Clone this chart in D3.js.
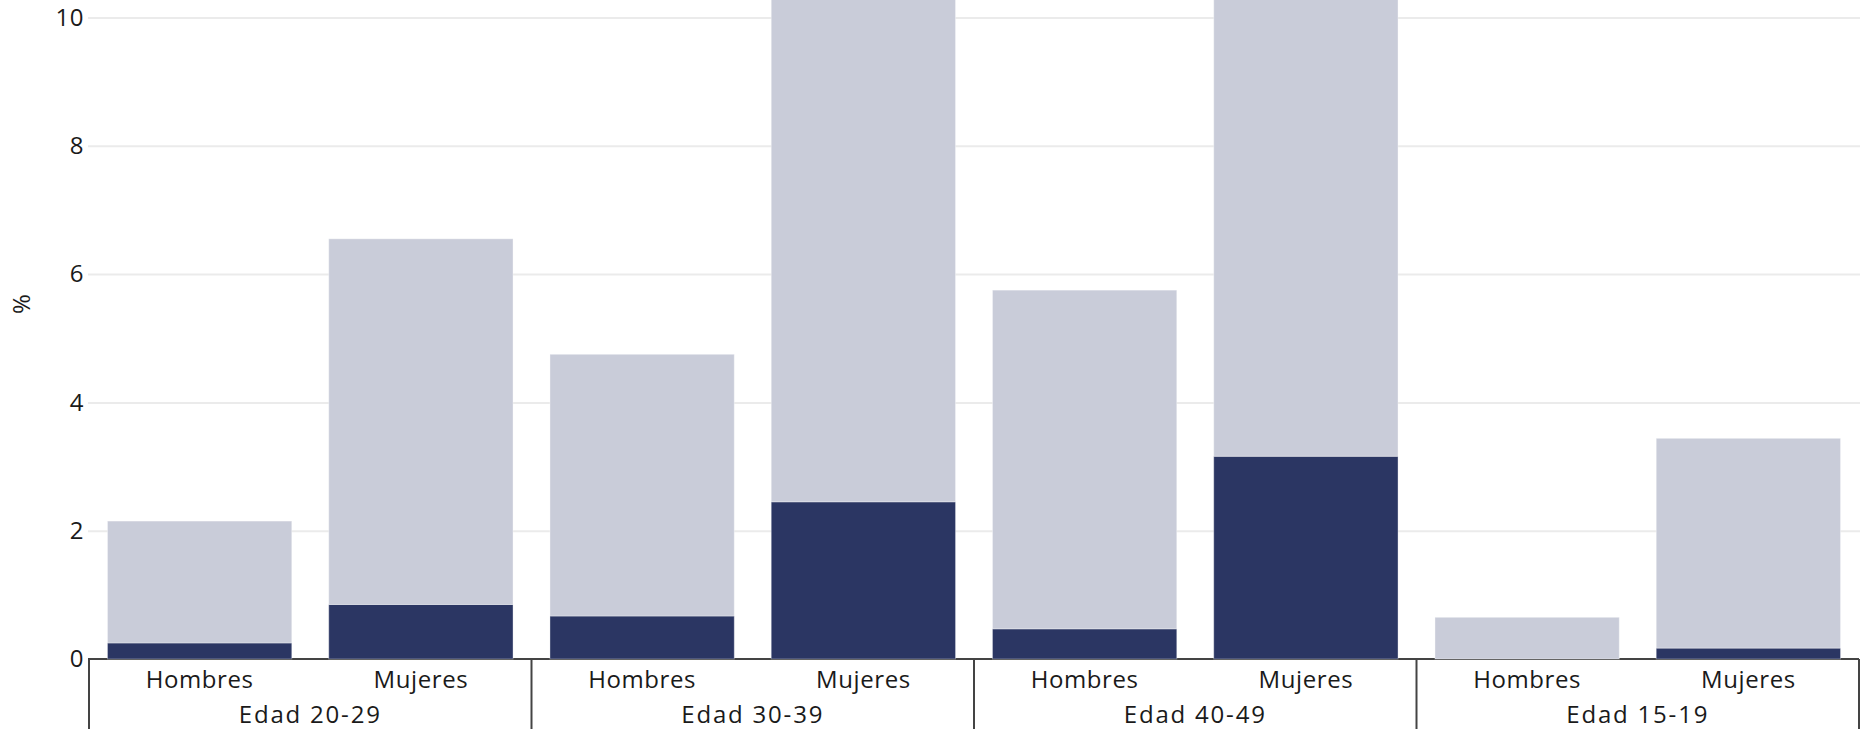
<!DOCTYPE html>
<html>
<head>
<meta charset="utf-8">
<script src="https://cdn.jsdelivr.net/npm/d3@7"></script>
<style>
  html, body { margin: 0; padding: 0; background: #fff; }
  svg { display: block; font-family: "Open Sans", "Noto Sans", sans-serif; }
</style>
</head>
<body>
<svg id="chart" width="1860" height="729"></svg>
<script>
// ---- data ----
const groups = ["Edad 20-29", "Edad 30-39", "Edad 40-49", "Edad 15-19"];
const sexes = ["Hombres", "Mujeres"];
// dark (bottom) segment, per group: [Hombres, Mujeres]
const darkValues = [
  [0.25, 0.85],
  [0.67, 2.45],
  [0.47, 3.16],
  [0.00, 0.17]
];
// light (stacked on top) segment
const lightValues = [
  [1.90, 5.70],
  [4.08, 10.5],
  [5.28, 9.5],
  [0.65, 3.27]
];
const yTicks = [0, 2, 4, 6, 8, 10];
const yLabel = "%";

// ---- layout ----
const W = 1860, H = 729;
const mLeft = 89, mRight = 1859, mTop = 17.5, zeroY = 659;
const svg = d3.select("#chart");

const x0 = d3.scaleBand().domain(groups).range([mLeft, mRight]).padding(0);
const x1 = d3.scaleBand().domain(sexes).range([0, x0.bandwidth()])
  .paddingInner(0.167).paddingOuter(0.0835);
const y = d3.scaleLinear().domain([0, 10]).range([zeroY, mTop]);

// gridlines
const grid = svg.append("g").attr("transform", `translate(${mLeft - 1},0)`)
  .call(d3.axisLeft(y).tickValues(yTicks.filter(t => t > 0)).tickSize(-(W - mLeft + 1)).tickFormat(""));
grid.select(".domain").remove();
grid.selectAll(".tick line").attr("stroke", "#ebebeb").attr("stroke-width", 2);

// y tick labels
const yAxis = svg.append("g").attr("transform", `translate(${mLeft - 1},0)`)
  .call(d3.axisLeft(y).tickValues(yTicks).tickSize(0).tickPadding(4).tickFormat(d3.format("d")));
yAxis.select(".domain").remove();
yAxis.selectAll(".tick text").attr("fill", "#1a1a1a").style("font-size", "24px")
  .style("font-family", "'Open Sans', sans-serif").style("letter-spacing", "0.5px");

// zero axis line
svg.append("line")
  .attr("x1", mLeft - 1).attr("x2", mRight)
  .attr("y1", y(0)).attr("y2", y(0))
  .attr("stroke", "#444").attr("stroke-width", 2);

// group separators
const seps = groups.map(g => x0(g)).concat([x0(groups[groups.length - 1]) + x0.bandwidth()]);
svg.selectAll("line.sep").data(seps).enter().append("line")
  .attr("class", "sep")
  .attr("x1", d => d).attr("x2", d => d)
  .attr("y1", y(0)).attr("y2", H)
  .attr("stroke", "#444").attr("stroke-width", 2);

// bars
const rows = [];
groups.forEach((g, gi) => sexes.forEach((s, si) => {
  rows.push({ g, s, dark: darkValues[gi][si], light: lightValues[gi][si] });
}));
const stack = d3.stack().keys(["dark", "light"]);
const series = stack(rows);
const colors = { dark: "#2b3663", light: "#c9ccd9" };

svg.append("g").selectAll("g").data(series).enter().append("g")
  .attr("fill", d => colors[d.key])
  .selectAll("rect").data(d => d).enter().append("rect")
  .attr("x", d => x0(d.data.g) + x1(d.data.s))
  .attr("width", x1.bandwidth())
  .attr("y", d => y(d[1]))
  .attr("height", d => Math.max(0, y(d[0]) - y(d[1])))
  .attr("stroke", "rgba(255,255,255,0.35)").attr("stroke-width", 1);

// sex labels
svg.append("g").selectAll("text").data(rows).enter().append("text")
  .attr("x", d => x0(d.g) + x1(d.s) + x1.bandwidth() / 2)
  .attr("y", 688)
  .attr("text-anchor", "middle")
  .attr("fill", "#1a1a1a")
  .style("font-size", "24px")
  .style("letter-spacing", "0.6px")
  .text(d => d.s);

// group labels
svg.append("g").selectAll("text").data(groups).enter().append("text")
  .attr("x", d => x0(d) + x0.bandwidth() / 2)
  .attr("y", 723)
  .attr("text-anchor", "middle")
  .attr("fill", "#1a1a1a")
  .style("font-size", "24px")
  .style("letter-spacing", "1.8px")
  .text(d => d);

// y label
svg.append("text")
  .attr("transform", `translate(30,304) rotate(-90)`)
  .attr("text-anchor", "middle")
  .attr("fill", "#1a1a1a")
  .style("font-size", "24px")
  .text(yLabel);
</script>
</body>
</html>
